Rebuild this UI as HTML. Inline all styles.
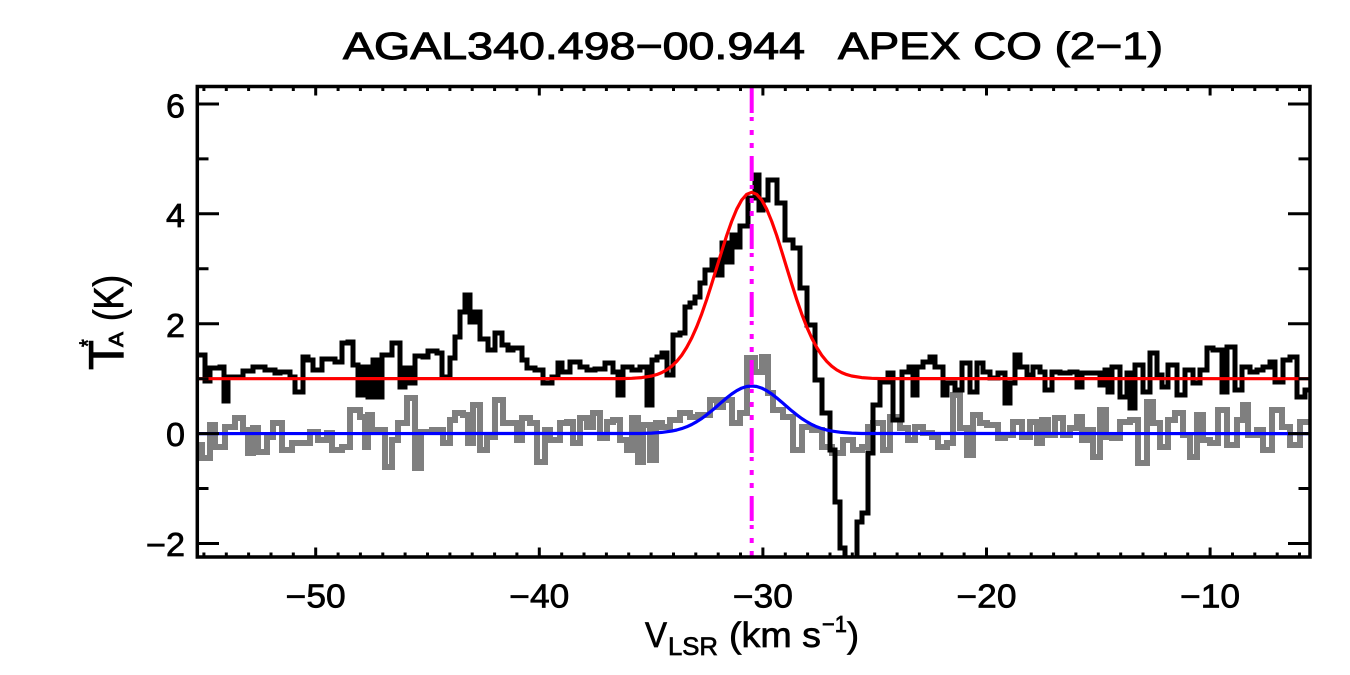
<!DOCTYPE html>
<html>
<head>
<meta charset="utf-8">
<style>
html,body{margin:0;padding:0;background:#fff;}
svg{display:block;}
text{font-family:"Liberation Sans",Arial,sans-serif;fill:#000;stroke:#000;stroke-width:0.7px;}
text.t{stroke-width:1px;}
</style>
</head>
<body>
<svg width="1350" height="675" viewBox="0 0 1350 675" xmlns="http://www.w3.org/2000/svg">
<rect x="0" y="0" width="1350" height="675" fill="#fff"/>
<defs>
<clipPath id="pc"><rect x="197" y="86.5" width="1113" height="470.5"/></clipPath>
</defs>

<!-- Title -->
<text class="t" x="343" y="59" font-size="38" textLength="462" lengthAdjust="spacingAndGlyphs">AGAL340.498−00.944</text>
<text class="t" x="838" y="59" font-size="38" textLength="325" lengthAdjust="spacingAndGlyphs">APEX CO (2−1)</text>

<g clip-path="url(#pc)">
<!-- gray spectrum -->
<path fill="none" stroke="#7f7f7f" stroke-width="6" stroke-linejoin="miter" d="M197 445 H202 V458 H210 V425 H215 V447 H225 V427 H235 V418 H243 V430 H248 V453 H253 V428 H258 V452 H267 V437 H273 V423 H282 V450 H292 V443 H302 V443 H310 V432 H318 V440 H327 V433 H332 V450 H342 V447 H350 V410 H360 V417 H365 V447 H368 V415 H372 V430 H378 V430 H385 V467 H392 V440 H398 V423 H407 V398 H415 V468 H421 V432 H432 V430 H443 V443 H450 V420 H455 V413 H463 V415 H468 V443 H473 V405 H480 V450 H487 V437 H495 V400 H503 V423 H517 V440 H522 V418 H530 V423 H537 V462 H545 V430 H550 V440 H560 V423 H567 V422 H573 V443 H580 V418 H587 V427 H593 V413 H600 V438 H607 V422 H613 V420 H620 V440 H627 V450 H632 V418 H638 V462 H643 V425 H650 V460 H656 V423 H662 V427 H670 V420 H680 V413 H690 V417 H698 V415 H710 V400 H717 V407 H723 V400 H732 V423 H740 V413 H747 V358 H755 V372 H762 V357 H768 V393 H773 V410 H783 V417 H793 V450 H802 V427 H812 V430 H822 V447 H832 V453 H843 V440 H853 V450 H862 V447 H868 V427 H873 V423 H883 V450 H890 V417 H900 V428 H908 V440 H915 V427 H923 V433 H932 V437 H938 V447 H947 V443 H953 V395 H960 V428 H967 V455 H973 V415 H980 V423 H987 V425 H998 V438 H1005 V435 H1013 V422 H1022 V437 H1030 V422 H1037 V443 H1042 V420 H1048 V435 H1055 V418 H1063 V435 H1070 V428 H1077 V417 H1082 V440 H1087 V430 H1093 V457 H1100 V410 H1106 V437 H1112 V438 H1120 V422 H1130 V420 H1138 V463 H1147 V402 H1153 V423 H1160 V447 H1168 V420 H1175 V413 H1183 V435 H1190 V457 H1197 V415 H1203 V440 H1210 V443 H1218 V410 H1227 V445 H1237 V420 H1243 V405 H1248 V435 H1257 V430 H1263 V450 H1272 V410 H1282 V427 H1290 V445 H1300 V422 H1312"/>

<!-- black spectrum -->
<path fill="none" stroke="#000" stroke-width="5" stroke-linejoin="miter" d="M197 355 H205 V381 H210 V368 H220 V367 H224 V401 H228 V377 H243 V371 H253 V367 H265 V370 H275 V373 H280 V372 H290 V377 H295 V392 H303 V357 H308 V360 H313 V370 H322 V359 H335 V362 H342 V343 H348 V342 H353 V365 H358 V395 H363 V367 H368 V397 H373 V360 H377 V397 H382 V355 H392 V343 H400 V387 H405 V368 H410 V383 H415 V356 H423 V357 H428 V351 H437 V353 H442 V377 H450 V358 H455 V337 H460 V312 H465 V295 H470 V322 H475 V312 H480 V339 H488 V350 H495 V333 H502 V345 H508 V350 H513 V348 H522 V360 H527 V368 H535 V370 H543 V383 H552 V377 H558 V363 H562 V372 H570 V362 H580 V367 H587 V370 H595 V369 H605 V363 H613 V372 H618 V395 H623 V367 H632 V370 H640 V367 H647 V405 H652 V360 H657 V357 H662 V353 H667 V375 H673 V335 H680 V333 H685 V307 H690 V303 H695 V297 H700 V283 H705 V270 H712 V260 H717 V275 H722 V243 H727 V262 H732 V235 H736 V247 H740 V226 H748 V198 H755 V175 H759 V210 H763 V200 H768 V180 H777 V203 H785 V240 H793 V248 H800 V288 H807 V325 H815 V380 H822 V413 H830 V450 H835 V502 H840 V548 H845 V590 H857 V522 H862 V513 H868 V453 H873 V405 H880 V382 H888 V373 H893 V420 H902 V372 H909 V367 H913 V395 H917 V367 H923 V362 H930 V357 H935 V367 H943 V395 H947 V383 H955 V390 H962 V363 H970 V392 H977 V363 H983 V372 H990 V378 H998 V373 H1005 V403 H1010 V383 H1015 V355 H1020 V367 H1027 V375 H1033 V367 H1040 V372 H1045 V390 H1052 V372 H1060 V373 H1070 V372 H1077 V387 H1082 V373 H1090 V373 H1100 V385 H1105 V370 H1108 V392 H1112 V367 H1120 V397 H1127 V373 H1130 V408 H1135 V365 H1143 V392 H1150 V353 H1157 V375 H1162 V387 H1168 V365 H1177 V395 H1185 V370 H1193 V383 H1200 V370 H1207 V348 H1213 V350 H1222 V392 H1227 V347 H1235 V390 H1242 V367 H1250 V372 H1257 V370 H1263 V367 H1270 V362 H1275 V382 H1283 V360 H1290 V357 H1297 V397 H1305 V390 H1312"/>

<!-- red gaussian fit -->
<polyline fill="none" stroke="#ff0000" stroke-width="3.2" stroke-linejoin="round" points="197,378.7 621.7,378.6 631.7,378.3 641.7,377.6 651.7,376.0 656.7,374.6 661.7,372.6 666.7,369.9 671.7,366.2 676.7,361.4 681.7,355.2 686.7,347.4 691.7,338.0 696.7,326.8 701.7,313.9 706.7,299.5 711.7,283.9 716.7,267.6 721.7,251.3 726.7,235.5 731.7,221.3 736.7,209.2 741.7,200.0 746.7,194.3 751.7,192.3 756.7,194.3 761.7,200.0 766.7,209.2 771.7,221.3 776.7,235.5 781.7,251.3 786.7,267.6 791.7,283.9 796.7,299.5 801.7,313.9 806.7,326.8 811.7,338.0 816.7,347.4 821.7,355.2 826.7,361.4 831.7,366.2 836.7,369.9 841.7,372.6 846.7,374.6 851.7,376.0 861.7,377.6 871.7,378.3 881.7,378.6 1310,378.7"/>

<!-- blue gaussian fit -->
<polyline fill="none" stroke="#0000ff" stroke-width="3.2" stroke-linejoin="round" points="197,433.6 641.7,433.5 651.7,433.1 661.7,432.4 671.7,431.1 676.7,430.0 681.7,428.6 686.7,426.8 691.7,424.5 696.7,421.7 701.7,418.5 706.7,414.8 711.7,410.8 716.7,406.5 721.7,402.1 726.7,397.9 731.7,394.0 736.7,390.7 741.7,388.1 746.7,386.5 751.7,386.0 756.7,386.5 761.7,388.1 766.7,390.7 771.7,394.0 776.7,397.9 781.7,402.1 786.7,406.5 791.7,410.8 796.7,414.8 801.7,418.5 806.7,421.7 811.7,424.5 816.7,426.8 821.7,428.6 826.7,430.0 831.7,431.1 841.7,432.4 851.7,433.1 861.7,433.5 1310,433.6"/>
</g>

<!-- magenta vertical dash-dot-dot-dot line -->
<line x1="751.7" y1="88" x2="751.7" y2="556" stroke="#ff00ff" stroke-width="4" stroke-dasharray="25 4 4 9 5 8 5 8"/>

<!-- frame -->
<rect x="197.3" y="86.5" width="1112.7" height="470.5" fill="none" stroke="#000" stroke-width="3.5"/>

<!-- ticks -->
<g stroke="#000" stroke-width="3" fill="none">
<path d="M315.7 557 V547.5 M539.3 557 V547.5 M762.9 557 V547.5 M986.5 557 V547.5 M1210.1 557 V547.5"/>
<path d="M315.7 86.5 V95.5 M539.3 86.5 V95.5 M762.9 86.5 V95.5 M986.5 86.5 V95.5 M1210.1 86.5 V95.5"/>
<path d="M203.9 557V552.5 M226.3 557V552.5 M248.6 557V552.5 M271.0 557V552.5 M293.3 557V552.5 M338.1 557V552.5 M360.4 557V552.5 M382.8 557V552.5 M405.1 557V552.5 M427.5 557V552.5 M449.9 557V552.5 M472.2 557V552.5 M494.6 557V552.5 M516.9 557V552.5 M561.7 557V552.5 M584.0 557V552.5 M606.4 557V552.5 M628.7 557V552.5 M651.1 557V552.5 M673.5 557V552.5 M695.8 557V552.5 M718.2 557V552.5 M740.5 557V552.5 M785.3 557V552.5 M807.6 557V552.5 M830.0 557V552.5 M852.3 557V552.5 M874.7 557V552.5 M897.1 557V552.5 M919.4 557V552.5 M941.8 557V552.5 M964.1 557V552.5 M1008.9 557V552.5 M1031.2 557V552.5 M1053.6 557V552.5 M1075.9 557V552.5 M1098.3 557V552.5 M1120.7 557V552.5 M1143.0 557V552.5 M1165.4 557V552.5 M1187.7 557V552.5 M1232.5 557V552.5 M1254.8 557V552.5 M1277.2 557V552.5 M1299.5 557V552.5"/>
<path d="M203.9 86.5V91 M226.3 86.5V91 M248.6 86.5V91 M271.0 86.5V91 M293.3 86.5V91 M338.1 86.5V91 M360.4 86.5V91 M382.8 86.5V91 M405.1 86.5V91 M427.5 86.5V91 M449.9 86.5V91 M472.2 86.5V91 M494.6 86.5V91 M516.9 86.5V91 M561.7 86.5V91 M584.0 86.5V91 M606.4 86.5V91 M628.7 86.5V91 M651.1 86.5V91 M673.5 86.5V91 M695.8 86.5V91 M718.2 86.5V91 M740.5 86.5V91 M785.3 86.5V91 M807.6 86.5V91 M830.0 86.5V91 M852.3 86.5V91 M874.7 86.5V91 M897.1 86.5V91 M919.4 86.5V91 M941.8 86.5V91 M964.1 86.5V91 M1008.9 86.5V91 M1031.2 86.5V91 M1053.6 86.5V91 M1075.9 86.5V91 M1098.3 86.5V91 M1120.7 86.5V91 M1143.0 86.5V91 M1165.4 86.5V91 M1187.7 86.5V91 M1232.5 86.5V91 M1254.8 86.5V91 M1277.2 86.5V91 M1299.5 86.5V91"/>
<path d="M197 543.5 H219 M197 433.6 H219 M197 323.7 H219 M197 213.8 H219 M197 104 H219"/>
<path d="M197 488.5 H208.5 M197 378.7 H208.5 M197 268.8 H208.5 M197 158.9 H208.5"/>
<path d="M1310 543.5 H1288 M1310 433.6 H1288 M1310 323.7 H1288 M1310 213.8 H1288 M1310 104 H1288"/>
<path d="M1310 488.5 H1298.5 M1310 378.7 H1298.5 M1310 268.8 H1298.5 M1310 158.9 H1298.5"/>
</g>

<!-- y tick labels -->
<text x="166" y="117.5" font-size="33" textLength="19" lengthAdjust="spacingAndGlyphs">6</text>
<text x="166" y="227" font-size="33" textLength="19" lengthAdjust="spacingAndGlyphs">4</text>
<text x="166" y="337" font-size="33" textLength="19" lengthAdjust="spacingAndGlyphs">2</text>
<text x="166" y="446" font-size="33" textLength="19" lengthAdjust="spacingAndGlyphs">0</text>
<text x="146" y="556" font-size="33" textLength="39" lengthAdjust="spacingAndGlyphs">−2</text>

<!-- x tick labels -->
<text x="285.7" y="607.5" font-size="33" textLength="60" lengthAdjust="spacingAndGlyphs">−50</text>
<text x="509.3" y="607.5" font-size="33" textLength="60" lengthAdjust="spacingAndGlyphs">−40</text>
<text x="732.9" y="607.5" font-size="33" textLength="60" lengthAdjust="spacingAndGlyphs">−30</text>
<text x="956.5" y="607.5" font-size="33" textLength="60" lengthAdjust="spacingAndGlyphs">−20</text>
<text x="1180.1" y="607.5" font-size="33" textLength="60" lengthAdjust="spacingAndGlyphs">−10</text>

<!-- x axis title -->
<text x="645" y="647" font-size="35" textLength="22" lengthAdjust="spacingAndGlyphs">V</text>
<text x="668" y="655" font-size="25" textLength="50" lengthAdjust="spacingAndGlyphs">LSR</text>
<text x="729" y="647" font-size="35" textLength="92" lengthAdjust="spacingAndGlyphs">(km s</text>
<text x="822" y="632" font-size="23" textLength="25" lengthAdjust="spacingAndGlyphs">−1</text>
<text x="847" y="647" font-size="35" textLength="12" lengthAdjust="spacingAndGlyphs">)</text>

<!-- y axis title (rotated) -->
<g transform="translate(123,370) rotate(-90) scale(1,1.22)">
<text x="0" y="0" font-size="40" textLength="30" lengthAdjust="spacingAndGlyphs">T</text>
<text x="23" y="-22" font-size="20">*</text>
<text x="23" y="0" font-size="17" textLength="15" lengthAdjust="spacingAndGlyphs">A</text>
<text x="49" y="0" font-size="34" textLength="46" lengthAdjust="spacingAndGlyphs">(K)</text>
</g>
</svg>
</body>
</html>
